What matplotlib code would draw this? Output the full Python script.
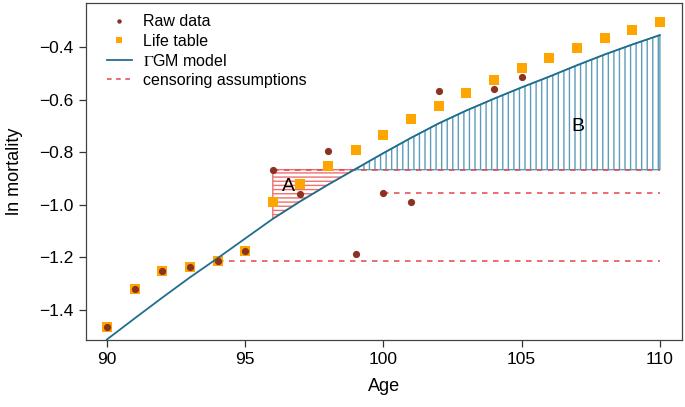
import matplotlib
matplotlib.use('Agg')

import matplotlib.pyplot as plt
from matplotlib.lines import Line2D
import numpy as np

#=====Data=====
ages = np.arange(90, 111)

raw_ages = [90, 91, 92, 93, 94, 95, 96, 97, 98, 99, 100, 101, 102, 104, 105]
raw_vals = [-1.465, -1.320, -1.251, -1.236, -1.213, -1.174, -0.866, -0.958,
            -0.794, -1.185, -0.955, -0.990, -0.566, -0.559, -0.512]

life_vals = [-1.465, -1.320, -1.251, -1.236, -1.213, -1.174, -0.988, -0.919,
             -0.853, -0.792, -0.733, -0.675, -0.623, -0.573, -0.524, -0.481,
             -0.440, -0.402, -0.367, -0.334, -0.303]

model_vals = [-1.512, -1.432, -1.353, -1.276, -1.203, -1.128, -1.053, -0.986,
              -0.923, -0.863, -0.803, -0.745, -0.690, -0.641, -0.596, -0.553,
              -0.512, -0.469, -0.428, -0.390, -0.354]

# censoring: start age of each dashed level (taken from the raw point there)
censor_ages = [94, 96, 100]
#=======================================

BROWN = '#8C3222'
ORANGE = '#FFA500'
BLUE = '#1F6E8E'
RED = '#E8444A'

plt.rcParams['font.family'] = ['Liberation Sans', 'DejaVu Sans']
plt.rcParams['mathtext.fontset'] = 'stix'
plt.rcParams['hatch.linewidth'] = 1.0

fig = plt.figure(figsize=(6.85, 4.07), dpi=100)
ax = fig.add_axes([0.125, 0.1646, 0.8706, 0.828])

raw = dict(zip(raw_ages, raw_vals))
model = np.array(model_vals)
level = raw[96]

# hatched areas A and B
iA = (ages >= 96) & (ages <= 99)
ax.fill_between(ages[iA], model[iA], level, facecolor='none',
                edgecolor='#EE7070', hatch='----', linewidth=1.0)
iB = ages >= 99
ax.fill_between(ages[iB], level, model[iB], facecolor='none',
                edgecolor='#5E9CBA', hatch='|||', linewidth=1.0)

# censoring assumptions
for a in censor_ages:
    ax.plot([a, ages[-1]], [raw[a], raw[a]], color=RED, lw=1.1,
            linestyle=(0, (3.6, 3.6)))

ax.plot(ages, life_vals, 's', color=ORANGE, markersize=6.6, markeredgewidth=0)
ax.plot(ages, model, color=BLUE, lw=1.3)
ax.plot(raw_ages, raw_vals, 'o', color=BROWN, markersize=5.2, markeredgewidth=0)

ax.text(96.58, -0.93, 'A', fontsize=14, ha='center', va='center')
ax.text(107.02, -0.70, 'B', fontsize=14, ha='center', va='center')

handles = [
    Line2D([], [], ls='none', marker='o', color=BROWN, markersize=3.2, markeredgewidth=0),
    Line2D([], [], ls='none', marker='s', color=ORANGE, markersize=4.0, markeredgewidth=0),
    Line2D([], [], color=BLUE, lw=1.3),
    Line2D([], [], color=RED, lw=1.1, linestyle=(0, (3.0, 3.0))),
]
labels = ['Raw data', 'Life table', r'$\Gamma$GM model', 'censoring assumptions']
ax.legend(handles, labels, loc='upper left', frameon=False, fontsize=11.5,
          handlelength=1.55, handletextpad=0.7, labelspacing=0.26,
          borderaxespad=0.0, bbox_to_anchor=(0.025, 0.985))

ax.set_xlim(89.23, 110.8)
ax.set_ylim(-1.514, -0.232)
ax.set_xticks([90, 95, 100, 105, 110])
ax.set_yticks([-1.4, -1.2, -1.0, -0.8, -0.6, -0.4])
ax.set_yticklabels(['\u22121.4', '\u22121.2', '\u22121.0', '\u22120.8', '\u22120.6', '\u22120.4'])
ax.tick_params(direction='out', length=5, width=0.9, labelsize=12.5, color='#333333')
for s in ax.spines.values():
    s.set_color('#444444')
    s.set_linewidth(0.9)

ax.set_xlabel('Age', fontsize=13, labelpad=8)
ax.set_ylabel('ln mortality', fontsize=13, labelpad=12)

fig.savefig('out.png', dpi=100)
